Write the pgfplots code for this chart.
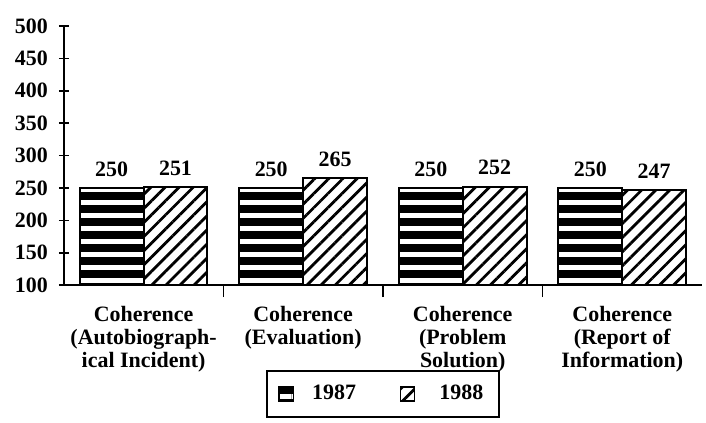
\documentclass[border=0pt]{standalone}
\usepackage{pgfplots}
\pgfplotsset{compat=1.18}
\usepackage{fontspec}
\setmainfont{Liberation Serif}
\usetikzlibrary{patterns.meta}
\newcommand\lbl{\fontsize{11}{11.5}\selectfont\bfseries}
\begin{document}
\begin{tikzpicture}
\useasboundingbox (-32pt,-69pt) rectangle (322pt,143pt);
\begin{axis}[
  at={(0,0)}, anchor=south west,
  x=80pt, y=0.325pt,
  xmin=-0.5, xmax=3.5, ymin=100, ymax=500,
  enlargelimits=false, clip=false,
  axis x line=bottom, axis y line=left,
  axis line style={-, line width=1pt},
  /pgf/number format/assume math mode=true,
  ytick={100,150,...,500},
  yticklabel style={font=\lbl, xshift=-2pt},
  xtick={0,1,2,3},
  xticklabels={{Coherence\\(Autobiograph-\\ical Incident)},{Coherence\\(Evaluation)},{Coherence\\(Problem\\Solution)},{Coherence\\(Report of\\Information)}},
  xticklabel style={font=\lbl, align=center, anchor=north, yshift=-2pt},
  minor xtick={0.5,1.5,2.5},
  major x tick style={draw=none},
  tick align=center,
  major tick length=5pt, minor tick length=6pt,
  every tick/.style={black, line width=0.8pt},
  ybar=0pt, bar width=32pt,
  nodes near coords,
  nodes near coords style={font=\lbl, yshift=2pt},
  legend columns=2,
  legend style={at={(0.5,-0.42)}, anchor=center, draw=black, line width=1pt,
    font=\lbl, inner xsep=6pt, inner ysep=5pt,
    /tikz/every even column/.append style={column sep=20pt}},
  legend image code/.code={\draw[#1, line width=0.8pt] (0pt,-3.5pt) rectangle (7pt,3.5pt);},
]
\addplot[draw=black, line width=1pt, preaction={fill=black},
  pattern={Lines[angle=0,distance=6.5pt,line width=2.4pt]}, pattern color=white]
  coordinates {(0,250) (1,250) (2,250) (3,250)};
\addplot[draw=black, line width=1pt, fill=white,
  pattern={Lines[angle=45,distance=5pt,line width=1.4pt]}, pattern color=black]
  coordinates {(0,251) (1,265) (2,252) (3,247)};
\legend{\hspace{7pt}1987,\hspace{10pt}1988}
\end{axis}
\end{tikzpicture}
\end{document}
